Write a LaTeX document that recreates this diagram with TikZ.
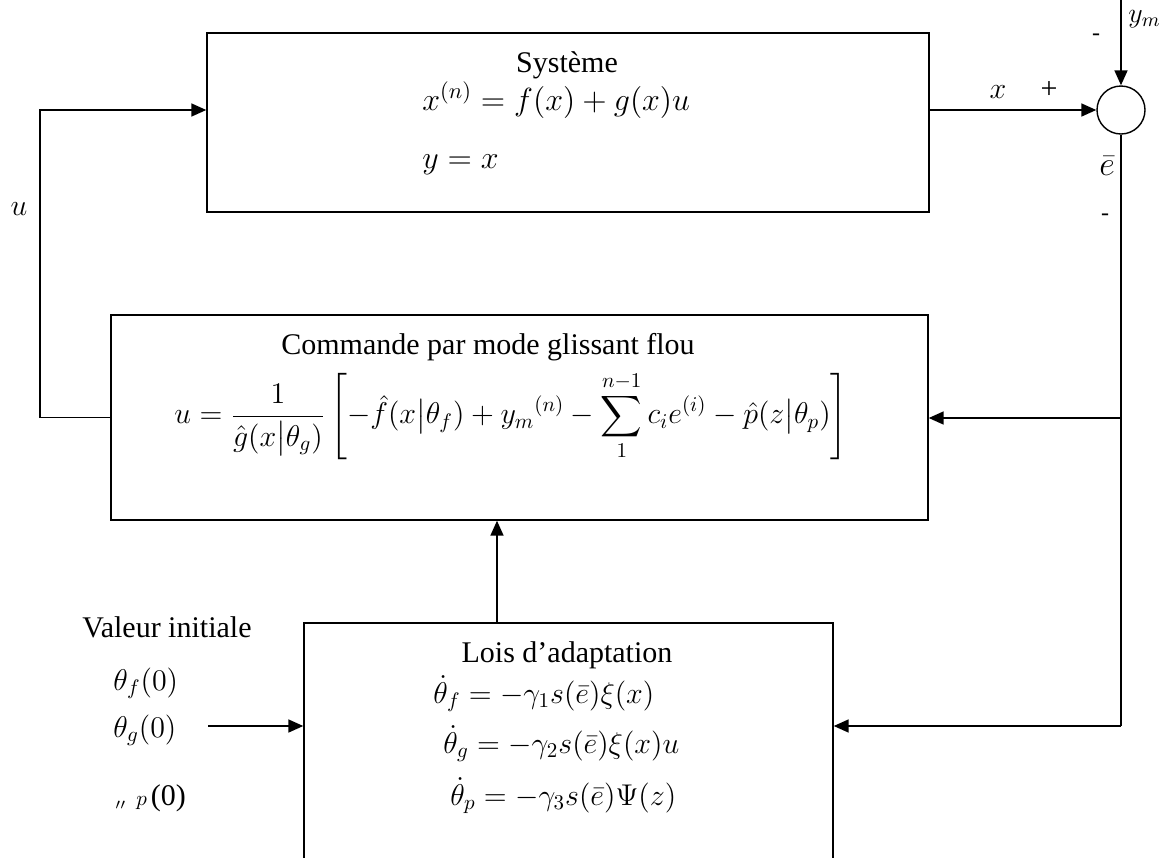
\RequirePackage{fix-cm}
\documentclass[tikz,border=0pt]{standalone}
\usepackage{amsmath}
\usepackage{fontspec}
\setmainfont{Liberation Serif}
\usetikzlibrary{arrows.meta}
\begin{document}
\begin{tikzpicture}[x=0.5pt,y=-0.5pt,
  box/.style={draw, line width=0.7pt, inner sep=0pt},
  conn/.style={line width=0.85pt, -{Triangle[length=7.5pt,width=6.5pt]}},
  wire/.style={line width=0.85pt},
  lbl/.style={inner sep=0pt, font=\fontsize{15}{18}\selectfont},
  sgn/.style={inner sep=0pt, font=\fontsize{12}{14}\selectfont},
]
\clip (0,0) rectangle (1164,858);
% boxes
\node[box, minimum width=361pt, minimum height=89.5pt] (sys) at (568,122.5) {};
\node[box, minimum width=408.5pt, minimum height=102.5pt] (com) at (519.5,417.5) {};
\node[box, minimum width=264.5pt, minimum height=150pt] (lois) at (568.5,773) {};
\node[draw, circle, line width=0.7pt, minimum size=24pt, inner sep=0pt] (sum) at (1121,110) {};
% texts in Systeme
\node[lbl, anchor=base] (tsys) at (567,72) {Système};
\node[lbl, anchor=base west, font=\fontsize{16}{19}\selectfont] (e1) at (422,110) {$x^{(n)} = f(x)+g(x)u$};
\node[lbl, anchor=base west, font=\fontsize{16}{19}\selectfont] (e2) at (422,168) {$y = x$};
% texts in Commande
\node[lbl, anchor=base] (tcom) at (488,354) {Commande par mode glissant flou};
\node[lbl, anchor=center] (ecom) at (511,416) {$\displaystyle u=\frac{1}{\hat{g}(x\bigl|\theta_g)}\left[-\hat{f}(x\bigl|\theta_f)+y_m{}^{(n)}-\sum_{1}^{n-1}c_ie^{(i)}-\hat{p}(z\bigl|\theta_p)\right]$};
% texts in Lois
\node[lbl, anchor=base] (tlois) at (567,662) {Lois d’adaptation};
\node[lbl, anchor=base west] (l1) at (433,703) {$\dot{\theta}_f=-\gamma_1 s(\bar{e})\xi(x)$};
\node[lbl, anchor=base west] (l2) at (443,753) {$\dot{\theta}_g=-\gamma_2 s(\bar{e})\xi(x)u$};
\node[lbl, anchor=base west] (l3) at (450,805) {$\dot{\theta}_p=-\gamma_3 s(\bar{e})\Psi(z)$};
% initial values
\node[lbl, anchor=base] (tvi) at (167,637) {Valeur initiale};
\node[lbl, anchor=base west] (v1) at (113,690) {$\theta_f(0)$};
\node[lbl, anchor=base west] (v2) at (113,737) {$\theta_g(0)$};
\node[lbl, anchor=base west] (v3) at (115,805) {\raisebox{-6pt}{$\scriptstyle{}''$}\hspace{5pt}$\scriptstyle p$\hspace{2pt}(0)};
% labels
\node[lbl, anchor=base] (lx) at (998,98) {$x$};
\node[lbl, anchor=center] (lplus) at (1049,90) {+};
\node[sgn, anchor=center] (lm1) at (1096,37) {-};
\node[sgn, anchor=center] (lm2) at (1105,217) {-};
\node[lbl, anchor=base, font=\fontsize{17}{20}\selectfont] (le) at (1107,175) {$\bar{e}$};
\node[inner sep=0pt, anchor=base west, font=\fontsize{14}{16}\selectfont] (lym) at (1128,22) {$y_m$};
\node[lbl, anchor=base] (lu) at (19,215) {$u$};
% connectors
\coordinate (ymtop) at (1121,0);
\coordinate (br1) at (1121,418);
\coordinate (br2) at (1121,726);
\coordinate (uc) at (40,110);
\coordinate (upx) at (497,0);
\coordinate (iv) at (208,726);
\draw[conn] (ymtop) -- (sum.north);
\draw[conn] (sys.east |- sum.west) -- (sum.west);
\draw[wire] (sum.south) -- (br2);
\draw[conn] (br1) -- (com.east |- br1);
\draw[conn] (br2) -- (lois.east |- br2);
\draw[conn] (com.west) -| (uc) -- (sys.west |- uc);
\draw[conn] (lois.north -| upx) -- (com.south -| upx);
\draw[conn] (iv) -- (lois.west |- iv);
\end{tikzpicture}
\end{document}
